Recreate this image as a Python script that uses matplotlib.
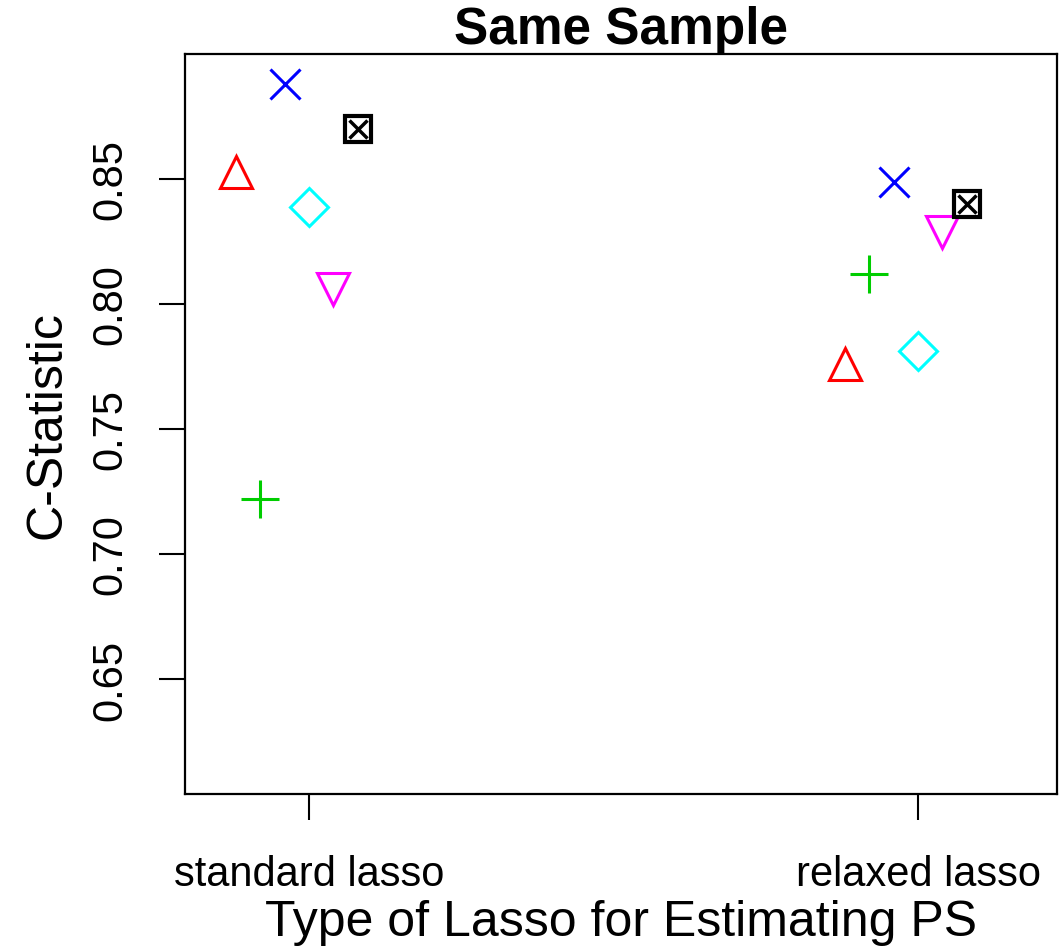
import numpy as np
import matplotlib
matplotlib.use("Agg")
import matplotlib.pyplot as plt

plt.rcParams['font.family'] = ['Liberation Sans', 'DejaVu Sans']

# data
lasso_types = ["standard lasso", "relaxed lasso"]
offsets = [-0.12, -0.08, -0.04, 0.0, 0.04, 0.08]
standard_cstat = [0.853, 0.722, 0.888, 0.839, 0.806, 0.870]
relaxed_cstat = [0.776, 0.812, 0.849, 0.781, 0.829, 0.840]
colors = ["#FF0000", "#00CD00", "#0000FF", "#00FFFF", "#FF00FF", "#000000"]
markers = ["^", "+", "x", "D", "v", "boxed"]
sizes = [23, 27, 21, 19, 23, 19]
yticks = [0.65, 0.70, 0.75, 0.80, 0.85]

fig = plt.figure(figsize=(10.59, 9.53), dpi=100)
ax = fig.add_axes([185 / 1059, 1 - 795 / 953, 872 / 1059, 740 / 953])

xpos = np.arange(1, len(lasso_types) + 1)
for i in range(len(offsets)):
    vals = [standard_cstat[i], relaxed_cstat[i]]
    xs = xpos + offsets[i]
    if markers[i] == "boxed":
        # R pch 7: square with an x inside
        ax.plot(xs, vals, linestyle="none", marker="s", ms=sizes[i],
                mfc="none", mec=colors[i], mew=3)
        ax.plot(xs, vals, linestyle="none", marker="x", ms=sizes[i] * 0.7,
                mec=colors[i], mew=2.5)
    else:
        ax.plot(xs, vals, linestyle="none", marker=markers[i], ms=sizes[i],
                mfc="none", mec=colors[i], mew=2.2)

ax.set_xlim(0.7964, 2.228)
ax.set_ylim(0.604, 0.90)
ax.set_xticks(xpos)
ax.set_xticklabels(lasso_types)
ax.set_yticks(yticks)
ax.set_yticklabels([f"{v:.2f}" for v in yticks], rotation=90, va="center")

ax.tick_params(axis="both", length=19, width=1.5, labelsize=30)
ax.tick_params(axis="y", pad=20)
ax.tick_params(axis="x", pad=24)
for s in ax.spines.values():
    s.set_linewidth(1.6)

ax.set_xlabel("Type of Lasso for Estimating PS", fontsize=36, labelpad=4)
ax.set_ylabel("C-Statistic", fontsize=36, labelpad=15)
ax.set_title("Same Sample", fontsize=37, fontweight="bold", pad=5)

fig.savefig("out.png", dpi=100)
